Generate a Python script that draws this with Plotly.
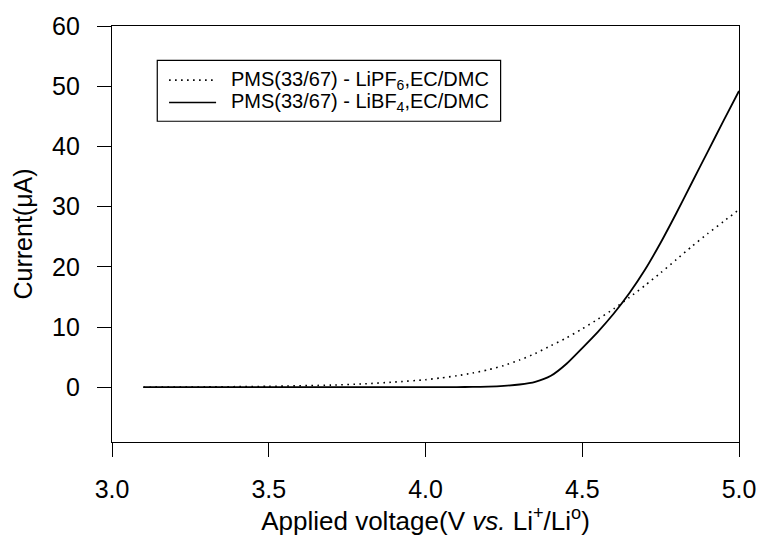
import plotly.graph_objects as go

voltage = [3.10, 3.30, 3.50, 3.70, 3.80, 3.90, 4.00, 4.05, 4.10, 4.15, 4.20, 4.25,
           4.30, 4.35, 4.40, 4.45, 4.50, 4.55, 4.60, 4.65, 4.70, 4.75, 4.80,
           4.85, 4.90, 4.95, 5.00]
current_pf6 = [0.0, 0.05, 0.15, 0.35, 0.55, 0.85, 1.25, 1.55, 1.9, 2.35, 2.9, 3.6,
               4.5, 5.6, 6.9, 8.2, 9.7, 11.3, 13.0, 14.9, 16.9, 19.0, 21.2,
               23.4, 25.5, 27.5, 29.5]
current_bf4 = [0.0, 0.0, 0.0, 0.0, 0.0, 0.0, 0.0, 0.0, 0.02, 0.05, 0.1, 0.22,
               0.45, 0.9, 1.9, 3.9, 6.5, 9.2, 12.2, 15.6, 19.5, 24.0, 28.9,
               34.0, 39.1, 44.2, 49.2]

name_pf6 = "PMS(33/67) - LiPF<sub>6</sub>,EC/DMC"
name_bf4 = "PMS(33/67) - LiBF<sub>4</sub>,EC/DMC"

FONT = "Liberation Sans, Arial, sans-serif"
DOT = "1.6px,4.4px"

fig = go.Figure()
fig.add_trace(go.Scatter(x=voltage, y=current_pf6, mode="lines", name=name_pf6,
                         line=dict(color="black", width=1.6, dash=DOT,
                                   shape="spline", smoothing=0.6)))
fig.add_trace(go.Scatter(x=voltage, y=current_bf4, mode="lines", name=name_bf4,
                         line=dict(color="black", width=1.8, shape="spline", smoothing=0.6)))

# legend drawn as box + sample lines + text (paper coordinates)
legend_x0, legend_x1, legend_y0, legend_y1 = 0.0722, 0.6198, 0.771, 0.9175
sample_x0, sample_x1, text_x = 0.091, 0.166, 0.186
row_y = [0.870, 0.816]

fig.add_shape(type="rect", xref="paper", yref="paper",
              x0=legend_x0, x1=legend_x1, y0=legend_y0, y1=legend_y1,
              line=dict(color="black", width=1.2), fillcolor="white", layer="above")
for ry, nm, dash, w in [(row_y[0], name_pf6, DOT, 1.6), (row_y[1], name_bf4, "solid", 1.6)]:
    fig.add_shape(type="line", xref="paper", yref="paper",
                  x0=sample_x0, x1=sample_x1, y0=ry, y1=ry,
                  line=dict(color="black", width=w, dash=dash), layer="above")
    fig.add_annotation(xref="paper", yref="paper", x=text_x, y=ry, text=nm,
                       showarrow=False, xanchor="left", yanchor="middle",
                       font=dict(size=20, family=FONT, color="black"))

fig.update_layout(
    width=768, height=541,
    margin=dict(l=112, r=19, t=23, b=94),
    paper_bgcolor="white", plot_bgcolor="white",
    font=dict(family=FONT, color="black"),
    showlegend=False,
)
fig.update_xaxes(
    range=[3.0, 5.0], tickvals=[3.0, 3.5, 4.0, 4.5, 5.0], ticktext=["3.0", "3.5", "4.0", "4.5", "5.0"],
    ticks="outside", ticklen=14, tickwidth=1.2, tickcolor="black",
    showline=True, linecolor="black", linewidth=1.3, mirror=True,
    showgrid=False, zeroline=False,
    tickfont=dict(size=25, family=FONT), ticklabelstandoff=11,
    title=dict(text="Applied voltage(V <i>vs.</i> Li<sup>+</sup>/Li<sup>o</sup>)",
               font=dict(size=26, family=FONT), standoff=8),
)
fig.update_yaxes(
    range=[-9.1, 60], tickvals=[0, 10, 20, 30, 40, 50, 60],
    ticks="outside", ticklen=14, tickwidth=1.2, tickcolor="black",
    showline=True, linecolor="black", linewidth=1.3, mirror=True,
    showgrid=False, zeroline=False,
    tickfont=dict(size=25, family=FONT), ticklabelstandoff=12,
    title=dict(text="Current(μA)", font=dict(size=25, family=FONT), standoff=12),
)

fig.write_html("out.html")
